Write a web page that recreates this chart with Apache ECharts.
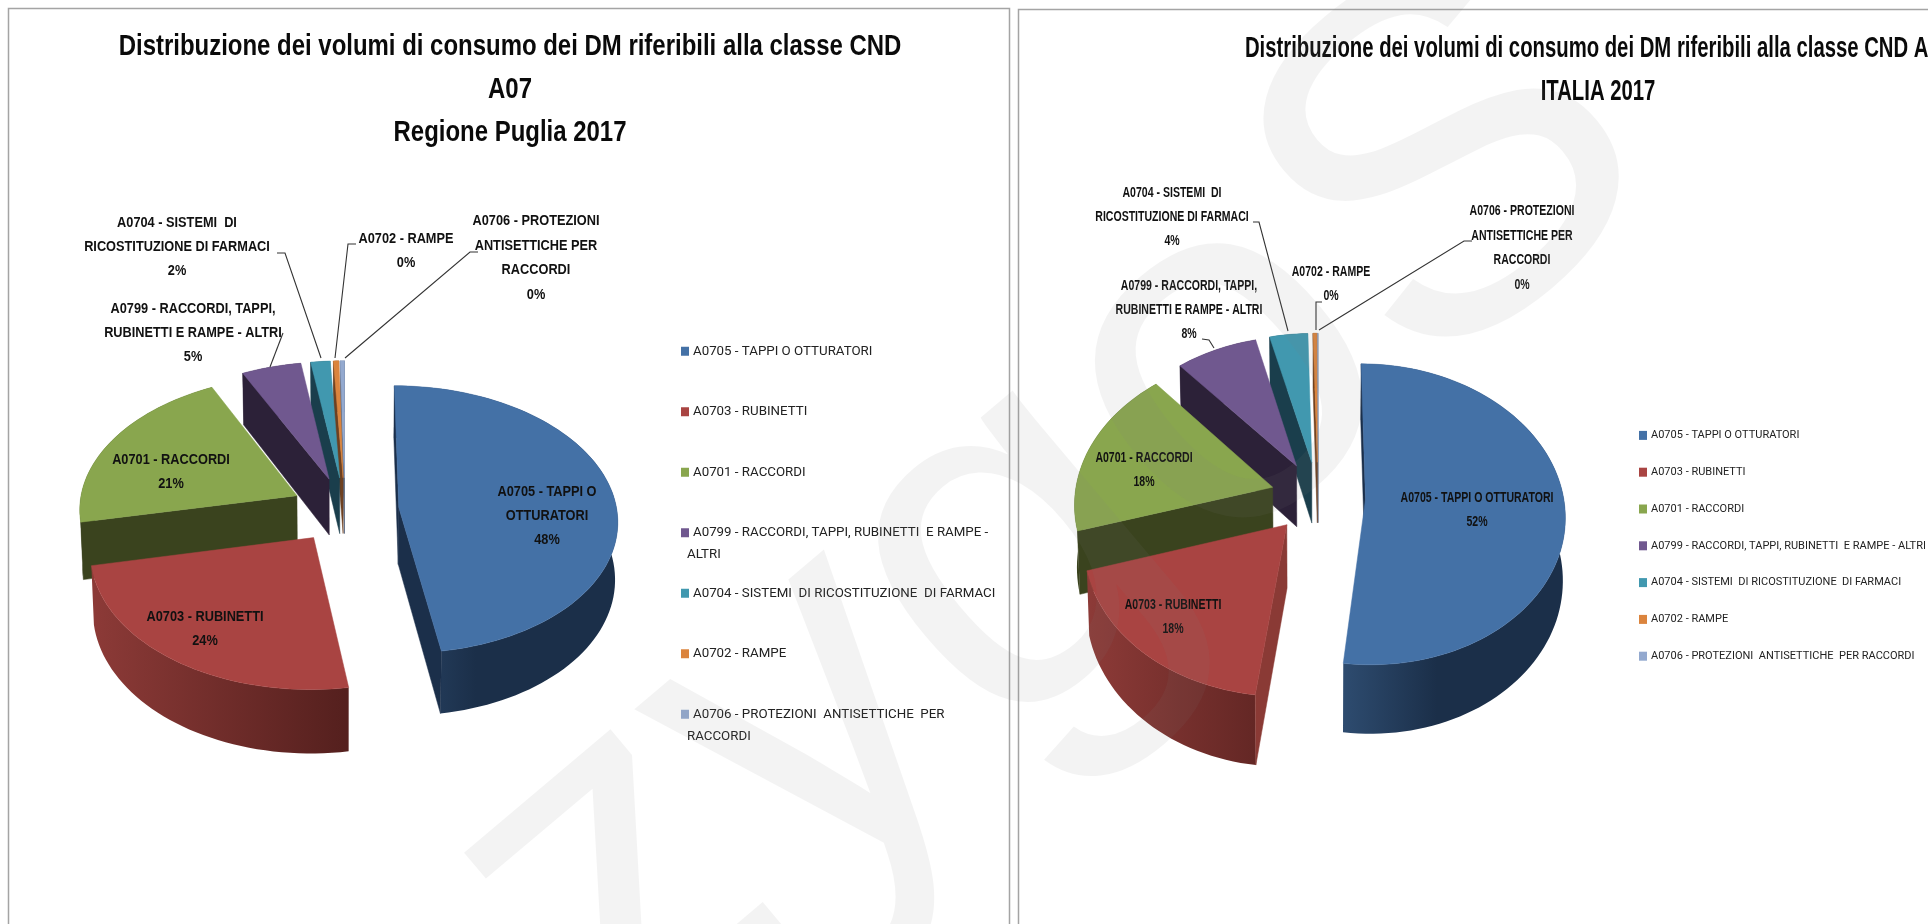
<!DOCTYPE html>
<html><head><meta charset="utf-8">
<style>html,body{margin:0;padding:0;background:#fff;overflow:hidden}#c{width:1928px;height:924px}</style>
<script src="https://cdn.jsdelivr.net/npm/echarts@6/dist/echarts.min.js"></script>
</head><body><div id="c"></div>
<script>
// ---------- data ----------
const categories = [
  'A0705 - TAPPI O OTTURATORI',
  'A0703 - RUBINETTI',
  'A0701 - RACCORDI',
  'A0799 - RACCORDI, TAPPI, RUBINETTI  E RAMPE - ALTRI',
  'A0704 - SISTEMI  DI RICOSTITUZIONE  DI FARMACI',
  'A0702 - RAMPE',
  'A0706 - PROTEZIONI  ANTISETTICHE  PER RACCORDI'
];
const pugliaValues = [47.5, 24.3, 20.9, 4.9, 1.6, 0.45, 0.35];
const italiaValues = [52.2, 18.4, 18.4, 7.5, 3.5, 0.35, 0.05];
const pugliaLabelLines = [
  ['A0705 - TAPPI O', 'OTTURATORI'], ['A0703 - RUBINETTI'], ['A0701 - RACCORDI'],
  ['A0799 - RACCORDI, TAPPI,', 'RUBINETTI E RAMPE - ALTRI'],
  ['A0704 - SISTEMI  DI', 'RICOSTITUZIONE DI FARMACI'], ['A0702 - RAMPE'],
  ['A0706 - PROTEZIONI', 'ANTISETTICHE PER', 'RACCORDI']
];
const italiaLabelLines = [
  ['A0705 - TAPPI O OTTURATORI'], ['A0703 - RUBINETTI'], ['A0701 - RACCORDI'],
  ['A0799 - RACCORDI, TAPPI,', 'RUBINETTI E RAMPE - ALTRI'],
  ['A0704 - SISTEMI  DI', 'RICOSTITUZIONE DI FARMACI'], ['A0702 - RAMPE'],
  ['A0706 - PROTEZIONI', 'ANTISETTICHE PER', 'RACCORDI']
];
const pugliaTitle = 'Distribuzione dei volumi di consumo dei DM riferibili alla classe CND\nA07\nRegione Puglia 2017';
const italiaTitle = 'Distribuzione dei volumi di consumo dei DM riferibili alla classe CND A07\nITALIA 2017';

// ---------- styling and layout ----------
const FONT = '"Liberation Sans",sans-serif';
const LEGEND_FONT = 'Roboto';
const faceColors = ['#4471a6', '#a94442', '#89a64e', '#70588f', '#4198af', '#db843d', '#93a9cf'];
const wallColors = ['#1b2f4a', '#8a3a35', '#3a431e', '#2c2138', '#1a3e4c', '#6e4020', '#5a6a85'];
const sideRamps = [
  [[0.55, '#2e4c70'], [0.75, '#1b2f49']],
  [[0.02, '#8c3a37'], [0.5, '#55201e']],
  [[0, '#3a431e'], [1, '#3a431e']],
  [[0, '#2c2138'], [1, '#2c2138']],
  [[0, '#1a3e4c'], [1, '#1a3e4c']],
  [[0, '#6e4020'], [1, '#6e4020']],
  [[0, '#5a6a85'], [1, '#5a6a85']]
];
const paintOrder = [6, 5, 4, 3, 2, 1, 0];
const pies = [
  { key: 'Puglia', values: pugliaValues, lines: pugliaLabelLines, cx: 345, cy: 510, R: 218, H: 133, k: 0.09, E: 0.248, depth: 57, sx: 0.88,
    labels: [[547, 516], [205, 629], [171, 472], [193, 333], [177, 247], [406, 251], [536, 258]],
    leaders: [null, null, null,
      [[283, 333], [270, 367]],
      [[277, 253], [285, 253], [321, 358]],
      [[356, 244], [348, 244], [335, 358]],
      [[478, 252], [470, 252], [345, 358]]] },
  { key: 'Italia', values: italiaValues, lines: italiaLabelLines, cx: 1318, cy: 497, R: 198, H: 148.5, k: 0.1, E: 0.24, depth: 62, sx: 0.727,
    labels: [[1477, 510], [1173, 617], [1144, 470], [1189, 310], [1172, 217], [1331, 284], [1522, 248]],
    leaders: [null, null, null,
      [[1202, 339], [1209, 340], [1214, 348]],
      [[1253, 222], [1259, 222], [1288, 331]],
      [[1322, 302], [1316, 302], [1316, 330]],
      [[1472, 241], [1464, 241], [1319, 330]]] }
];

function project(p, u, v, low){
  const w = 1 + p.k*v, s = low ? 0.99 : 1;
  return [p.cx + p.R*u/w*s, p.cy - p.H*v/w + (low ? p.depth/w : 0)];
}
function cross(o, a, b){ return (a[0]-o[0])*(b[1]-o[1]) - (a[1]-o[1])*(b[0]-o[0]); }
function makeRenderer(p, idx){
  const total = p.values.reduce((a,b)=>a+b,0);
  const before = p.values.slice(0,idx).reduce((a,b)=>a+b,0);
  return function(params, api){
    const val = api.value(0);
    const a0 = before/total*2*Math.PI, a1 = (before+val)/total*2*Math.PI, am = (a0+a1)/2;
    const ou = Math.sin(am)*p.E, ov = Math.cos(am)*p.E;
    const n = Math.max(2, Math.ceil((a1-a0)/(Math.PI/90)));
    const arc = [];
    for (let i=0;i<=n;i++){ const a=a0+(a1-a0)*i/n; arc.push([ou+Math.sin(a), ov+Math.cos(a)]); }
    const apexT = project(p,ou,ov,false), apexB = project(p,ou,ov,true);
    const T = arc.map(q=>project(p,q[0],q[1],false)), B = arc.map(q=>project(p,q[0],q[1],true));
    const left = p.cx - p.R*1.2, span = p.R*2.4;
    const stops = sideRamps[idx];
    const gradient = new echarts.graphic.LinearGradient(left+stops[0][0]*span, 0, left+stops[1][0]*span, 0,
      [{offset:0,color:stops[0][1]},{offset:1,color:stops[1][1]}], true);
    const children = [];
    children.push({type:'polygon',shape:{points:T.concat(B.slice().reverse())},style:{fill:gradient}});
    const mid = T[Math.floor(n/2)];
    [[T[0]],[T[n]]].forEach(e => {
      const c = e[0];
      if (cross(apexT,c,mid)*cross(apexT,c,apexB) < 0)
        children.push({type:'polygon',shape:{points:[apexT,c,c===T[0]?B[0]:B[n],apexB]},style:{fill:wallColors[idx],stroke:wallColors[idx],lineWidth:0.5}});
    });
    children.push({type:'polygon',shape:{points:[apexT].concat(T)},style:{fill:faceColors[idx],stroke:faceColors[idx],lineWidth:0.5}});
    const lead = p.leaders[idx];
    if (lead) children.push({type:'polyline',shape:{points:lead},style:{fill:null,stroke:'#333',lineWidth:1.1}});
    const pct = Math.round(val)+'%';
    children.push({type:'text',x:p.labels[idx][0],y:p.labels[idx][1],scaleX:p.sx,z2:50,
      style:{text:p.lines[idx].concat([pct]).join('\n'),font:'bold 14.5px '+FONT,fill:'#111',align:'center',verticalAlign:'middle',lineHeight:24.4}});
    return {type:'group',children};
  };
}
const series = [];
pies.forEach(p => paintOrder.forEach(idx => series.push({
  type:'custom', name:categories[idx], coordinateSystem:'none', silent:true,
  itemStyle:{color:faceColors[idx]}, clip:false,
  data:[[p.values[idx]]], renderItem:makeRenderer(p,idx)
})));

function titleText(text,x,y,sx){
  return {type:'text',x,y,scaleX:sx,z:10,silent:true,
    style:{text,font:'bold 29px '+FONT,fill:'#0a0a0a',align:'center',verticalAlign:'middle',lineHeight:43}};
}
function plainText(text,x,y,size){
  return {type:'text',x,y,z:10,silent:true,style:{text,font:size+'px '+LEGEND_FONT,fill:'#222',align:'left',verticalAlign:'middle'}};
}
const graphic = [
  {type:'rect',z:0,silent:true,shape:{x:8.5,y:8.5,width:1001,height:940},style:{fill:'#fff',stroke:'#a4a4a4',lineWidth:1.5}},
  {type:'rect',z:0,silent:true,shape:{x:1018.5,y:9.5,width:960,height:940},style:{fill:'#fff',stroke:'#a4a4a4',lineWidth:1.5}},
  titleText(pugliaTitle,510,90,0.826),
  titleText(italiaTitle,1598,70,0.70),
  plainText('ALTRI',687,555,13.3),
  plainText('RACCORDI',687,737,13.3),
  {type:'text',x:1055,y:520,rotation:0.70,z:100,silent:true,
    style:{text:'zygoS',font:'500px "Liberation Sans",sans-serif',fill:'rgba(128,128,128,0.095)',align:'center',verticalAlign:'middle'}}
];
function legendFmt(name){
  if (name === categories[3]) return 'A0799 - RACCORDI, TAPPI, RUBINETTI  E RAMPE -';
  if (name === categories[6]) return 'A0706 - PROTEZIONI  ANTISETTICHE  PER';
  return name;
}
const chart = echarts.init(document.getElementById('c'),null,{renderer:'canvas'});
chart.setOption({
  animation:false, backgroundColor:'#fff', graphic:{elements:graphic},
  legend:[
    {data:categories,orient:'vertical',left:676,top:338,icon:'rect',itemWidth:8,itemHeight:9,itemGap:44,selectedMode:false,
      formatter:legendFmt,textStyle:{fontFamily:LEGEND_FONT,fontSize:13.3,color:'#222',padding:[0,0,0,-1],height:16.5,lineHeight:16.5}},
    {data:categories,orient:'vertical',left:1634,top:423,icon:'rect',itemWidth:8,itemHeight:9,itemGap:22,selectedMode:false,
      textStyle:{fontFamily:LEGEND_FONT,fontSize:11,color:'#222',padding:[0,0,0,-1],height:14.8,lineHeight:14.8}}
  ],
  series
});
</script></body></html>
